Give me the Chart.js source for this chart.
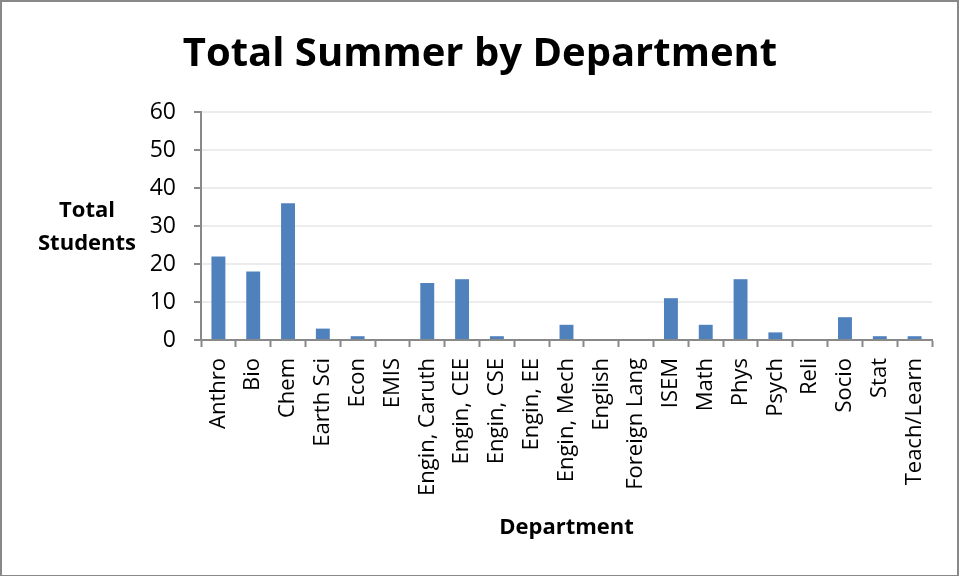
<!DOCTYPE html>
<html>
<head>
<meta charset="utf-8">
<script src="https://cdn.jsdelivr.net/npm/chart.js@4"></script>
<style>
  html,body{margin:0;padding:0;background:#fff;}
  #wrap{position:relative;width:961px;height:576px;}
</style>
</head>
<body>
<div id="wrap"><canvas id="chart" width="961" height="576"></canvas></div>
<script>
// departments and total summer students
const departments = ['Anthro','Bio','Chem','Earth Sci','Econ','EMIS','Engin, Caruth','Engin, CEE','Engin, CSE','Engin, EE','Engin, Mech','English','Foreign Lang','ISEM','Math','Phys','Psych','Reli','Socio','Stat','Teach/Learn'];
const totals = [22,18,36,3,1,0,15,16,1,0,4,0,0,11,4,16,2,0,6,1,1];
const yTicks = [0,10,20,30,40,50,60];

const FONT = "'Open Sans', sans-serif";
const AXIS = '#898989';

// frame around the canvas + horizontal y title
const extras = {
  id: 'extras',
  afterDraw(chart){
    const c = chart.ctx;
    c.save();
    c.strokeStyle = '#888';
    c.lineWidth = 2;
    c.strokeRect(1,1,957,575);
    c.fillStyle = '#000';
    c.font = "bold 22px " + FONT;
    c.textAlign = 'center';
    c.textBaseline = 'middle';
    c.fillText('Total', 87, 211);
    c.fillText('Students', 87, 244);
    c.restore();
  }
};

new Chart(document.getElementById('chart'), {
  type: 'bar',
  data: {
    labels: departments,
    datasets: [{ data: totals, backgroundColor: '#4f81bd', categoryPercentage: 1, barPercentage: 0.4 }]
  },
  options: {
    responsive: false,
    animation: false,
    layout: { padding: { left: 28, right: 29, top: 0, bottom: 0 } },
    plugins: {
      legend: { display: false },
      tooltip: { enabled: false },
      title: {
        display: true,
        text: 'Total Summer by Department',
        color: '#000',
        font: { family: FONT, size: 40, weight: 'bold', lineHeight: 1.2 },
        padding: { top: 31, bottom: 33 }
      }
    },
    scales: {
      x: {
        grid: { offset: true, drawOnChartArea: false, drawTicks: true, tickLength: 7, tickColor: AXIS, tickWidth: 2 },
        border: { color: AXIS, width: 2 },
        ticks: { color: '#000', autoSkip: false, minRotation: 90, maxRotation: 90, padding: 11, font: { family: FONT, size: 22 } },
        title: { display: true, text: 'Department', color: '#000', font: { family: FONT, size: 22, weight: 'bold', lineHeight: 1.2 }, padding: { top: 0, bottom: 35 } },
        afterFit(s){ s.height = 236; }
      },
      y: {
        min: 0, max: 60,
        afterBuildTicks(s){ s.ticks = yTicks.map(v => ({ value: v })); },
        grid: { color: '#ececec', lineWidth: 2, tickLength: 7, tickColor: AXIS, tickWidth: 2 },
        border: { color: AXIS, width: 2 },
        ticks: { color: '#000', padding: 18, font: { family: FONT, size: 23 } },
        afterFit(s){ s.width = 173; }
      }
    }
  },
  plugins: [extras]
});
</script>
</body>
</html>
